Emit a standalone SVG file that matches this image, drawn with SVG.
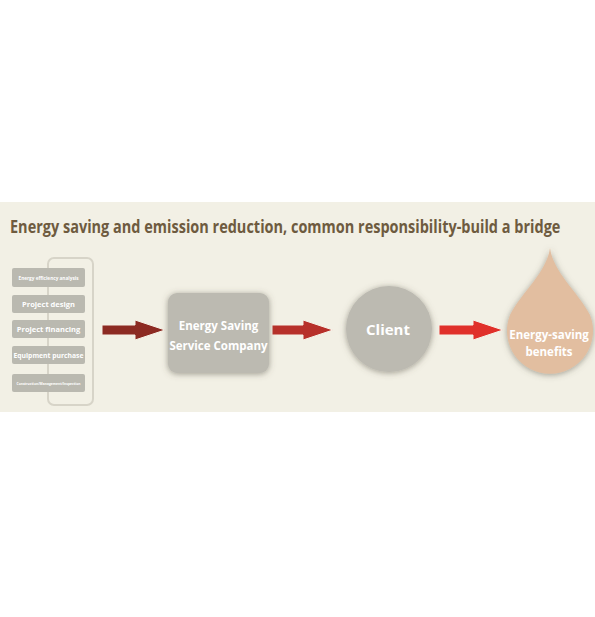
<svg xmlns="http://www.w3.org/2000/svg" width="595" height="617" viewBox="0 0 595 617">
<defs>
<style>
.t{font-family:"Open Sans","Liberation Sans",sans-serif;font-weight:bold;fill:#ffffff}
.box{fill:#bcbab1}
.step{fill:#bab9b0}
</style>
<filter id="sh" x="-30%" y="-30%" width="160%" height="160%">
<feGaussianBlur in="SourceAlpha" stdDeviation="3"/>
<feOffset dx="0" dy="1" result="b"/>
<feFlood flood-color="#5a5648" flood-opacity="0.55"/>
<feComposite in2="b" operator="in"/>
<feMerge><feMergeNode/><feMergeNode in="SourceGraphic"/></feMerge>
</filter>
</defs>
<rect width="595" height="617" fill="#ffffff"/>
<rect x="0" y="202" width="595" height="210" fill="#f2f0e5"/>
<text transform="translate(10,233) scale(0.86,1)" x="0" y="0" font-family="'Open Sans','Liberation Sans',sans-serif" font-weight="bold" font-size="17" fill="#6e5b3f" textLength="640" lengthAdjust="spacingAndGlyphs">Energy saving and emission reduction, common responsibility-build a bridge</text>

<g id="steps">
<rect x="48" y="258" width="45" height="147" rx="6" fill="none" stroke="#d7d4c8" stroke-width="2"/>
<rect class="step" x="12" y="268" width="73" height="19" rx="2"/>
<text class="t" x="48.5" y="280" font-size="5" text-anchor="middle" textLength="60" lengthAdjust="spacingAndGlyphs">Energy efficiency analysis</text>
<rect class="step" x="12" y="295" width="73" height="18" rx="2"/>
<text class="t" x="48.5" y="307" font-size="7.5" text-anchor="middle">Project design</text>
<rect class="step" x="12" y="320" width="73" height="18" rx="2"/>
<text class="t" x="48.5" y="332" font-size="7.5" text-anchor="middle">Project financing</text>
<rect class="step" x="12" y="346" width="73" height="18" rx="2"/>
<text class="t" x="48.5" y="358" font-size="7.5" text-anchor="middle" textLength="70" lengthAdjust="spacingAndGlyphs">Equipment purchase</text>
<rect class="step" x="12" y="374" width="73" height="18" rx="2"/>
<text class="t" x="48.5" y="385" font-size="4" text-anchor="middle" textLength="64" lengthAdjust="spacingAndGlyphs">Construction/Management/Inspection</text>
</g>

<g id="connectors">
<polygon points="102,325 135,325 135,320 165,330 135,340 135,335 102,335" fill="#8c2a22" stroke="#f6f0e6" stroke-width="1"/>
<polygon points="272,325 303,325 303,320 333,330 303,340 303,335 272,335" fill="#b7302a" stroke="#f6f0e6" stroke-width="1"/>
<polygon points="439,325 473,325 473,320 503,330 473,340 473,335 439,335" fill="#e0302a" stroke="#f6f0e6" stroke-width="1"/>
</g>

<g id="esco">
<rect class="box" x="168" y="293" width="101" height="80" rx="9" filter="url(#sh)"/>
<text class="t" x="218.5" y="330" font-size="11.5" text-anchor="middle">Energy Saving</text>
<text class="t" x="218.5" y="350" font-size="11.5" text-anchor="middle">Service Company</text>
</g>

<g id="client">
<circle class="box" cx="389" cy="329" r="43" filter="url(#sh)"/>
<text class="t" x="388" y="335" font-size="15" text-anchor="middle">Client</text>
</g>

<g id="benefits">
<path d="M550,248 C547,272 522,292 510,315 A43,43 0 1 0 590,315 C578,292 553,272 550,248 Z" fill="#e2bea0" filter="url(#sh)"/>
<text class="t" x="549" y="339" font-size="11.5" text-anchor="middle">Energy-saving</text>
<text class="t" x="549" y="356" font-size="11.5" text-anchor="middle">benefits</text>
</g>
</svg>
